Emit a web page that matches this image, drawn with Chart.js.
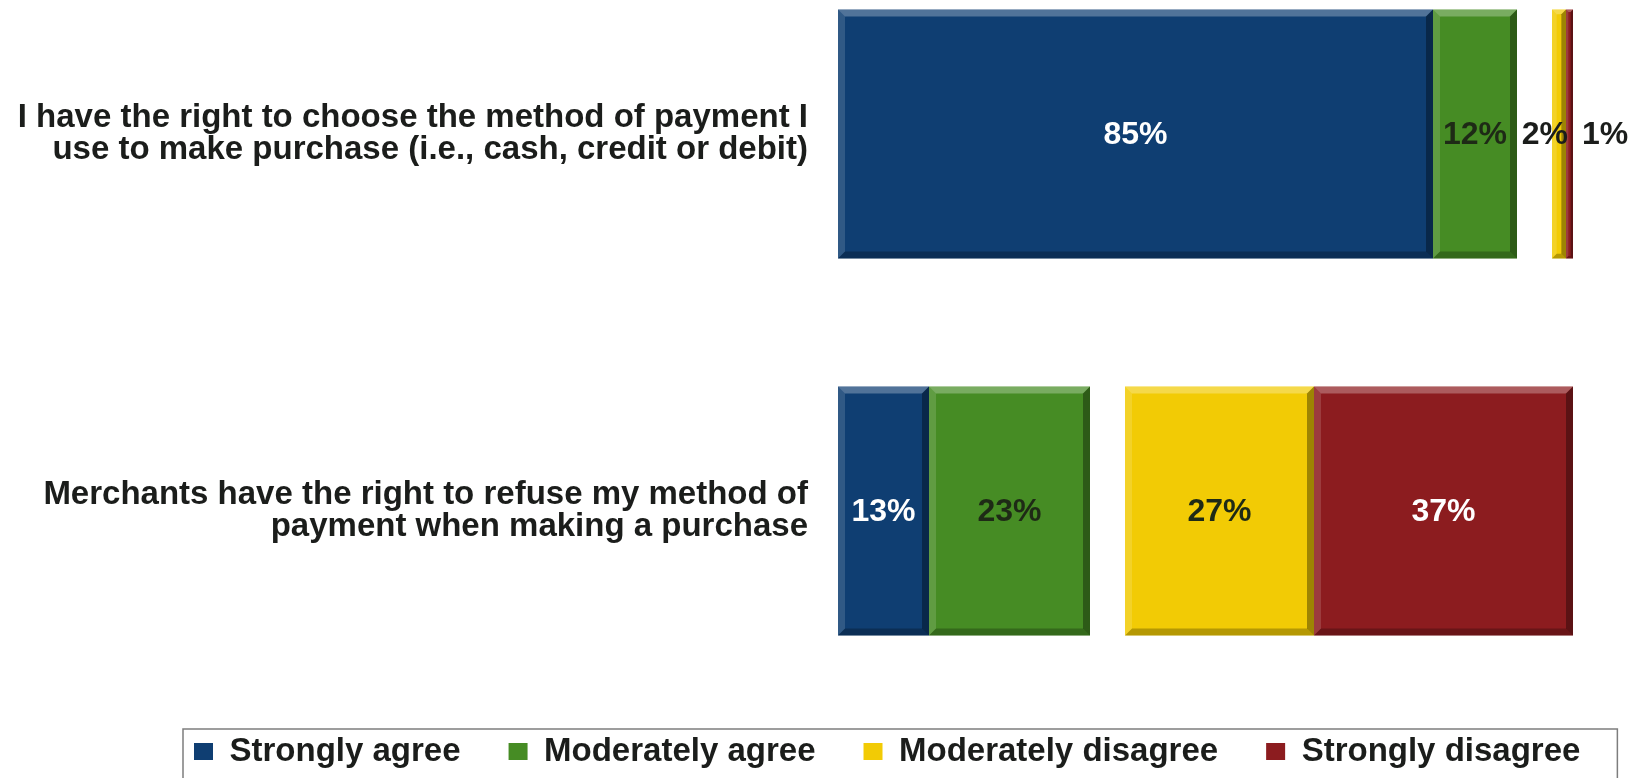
<!DOCTYPE html>
<html>
<head>
<meta charset="utf-8">
<script src="https://cdn.jsdelivr.net/npm/chart.js@4.4.0/dist/chart.umd.min.js"></script>
<style>
html,body{margin:0;padding:0;background:#fff;}
#wrap{width:1638px;height:778px;}
</style>
</head>
<body>
<div id="wrap"><canvas id="chart"></canvas></div>
<script>
// statements (y categories)
let questions=[
["I have the right to choose the method of payment I","use to make purchase (i.e., cash, credit or debit)"],
["Merchants have the right to refuse my method of","payment when making a purchase"]
];

// percentages per answer
let stronglyAgree=[85,13];
let moderatelyAgree=[12,23];
let gapValues=[5,5];
let moderatelyDisagree=[2,27];
let stronglyDisagree=[1,37];

let fontFamily="'Liberation Sans', Arial, sans-serif";
let textColor="#1b1d1b";

/* 3D bevel on bars */
const bevelPlugin={
id:"bevel",
afterDatasetsDraw(chart){
let ctx=chart.ctx;
chart.data.datasets.forEach(function(ds,di){
if(ds.isGap) return;
chart.getDatasetMeta(di).data.forEach(function(bar){
let p=bar.getProps(["x","y","base","height"],true);
let l=Math.min(p.base,p.x), r=Math.max(p.base,p.x);
let t=p.y-p.height/2, b=p.y+p.height/2;
let s=Math.min(7,(r-l)/3,(b-t)/3);
ctx.save();
ctx.fillStyle="rgba(255,255,255,0.28)";
ctx.beginPath();ctx.moveTo(l,t);ctx.lineTo(r,t);ctx.lineTo(r-s,t+s);ctx.lineTo(l+s,t+s);ctx.closePath();ctx.fill();
ctx.fillStyle="rgba(255,255,255,0.14)";
ctx.beginPath();ctx.moveTo(l,t);ctx.lineTo(l+s,t+s);ctx.lineTo(l+s,b-s);ctx.lineTo(l,b);ctx.closePath();ctx.fill();
ctx.fillStyle="rgba(0,0,0,0.25)";
ctx.beginPath();ctx.moveTo(l,b);ctx.lineTo(l+s,b-s);ctx.lineTo(r-s,b-s);ctx.lineTo(r,b);ctx.closePath();ctx.fill();
ctx.fillStyle="rgba(0,0,0,0.35)";
ctx.beginPath();ctx.moveTo(r,t);ctx.lineTo(r,b);ctx.lineTo(r-s,b-s);ctx.lineTo(r-s,t+s);ctx.closePath();ctx.fill();
ctx.restore();
});
});
}
};

/* value labels */
const labelPlugin={
id:"valueLabels",
afterDatasetsDraw(chart){
let ctx=chart.ctx;
let last=chart.data.datasets.length-1;
ctx.save();
ctx.font="bold 32px "+fontFamily;
ctx.textBaseline="middle";
chart.data.datasets.forEach(function(ds,di){
if(ds.isGap) return;
chart.getDatasetMeta(di).data.forEach(function(bar,i){
let v=ds.data[i];
let p=bar.getProps(["x","y","base"],true);
let x=(p.x+p.base)/2, align="center", color=ds.labelColor;
if(v<5){
color=textColor;
if(di===last){x=p.x+9;align="left";}
else{x=p.x+2;align="right";}
}
ctx.textAlign=align;
ctx.fillStyle=color;
ctx.fillText(v+"%",x,p.y+1);
});
});
ctx.restore();
}
};

/* move legend and frame it */
const legendPlugin={
id:"legendFrame",
afterLayout(chart){
let lg=chart.legend;
let w=lg.right-lg.left;
lg.left=194-lg.options.labels.padding;
lg.right=lg.left+w;
},
afterDraw(chart){
let boxes=chart.legend.legendHitBoxes;
if(!boxes||!boxes.length) return;
let l=Math.min.apply(null,boxes.map(function(h){return h.left;}));
let r=Math.max.apply(null,boxes.map(function(h){return h.left+h.width;}));
let t=boxes[0].top;
let ctx=chart.ctx;
ctx.save();
ctx.strokeStyle="#7d7d7d";
ctx.lineWidth=1.5;
ctx.strokeRect(l-11,t-6,r-l+48,100);
ctx.restore();
}
};

new Chart(document.getElementById("chart"),{
type:"bar",
data:{
labels:questions,
datasets:[
{label:"Strongly agree",data:stronglyAgree,backgroundColor:"#0f3e72",labelColor:"#ffffff"},
{label:"Moderately agree",data:moderatelyAgree,backgroundColor:"#468c24",labelColor:"#1e2a16"},
{label:"gap",data:gapValues,backgroundColor:"rgba(0,0,0,0)",isGap:true},
{label:"Moderately disagree",data:moderatelyDisagree,backgroundColor:"#f2cb05",labelColor:"#1e2a16"},
{label:"Strongly disagree",data:stronglyDisagree,backgroundColor:"#8c1c1f",labelColor:"#ffffff"}
]
},
options:{
indexAxis:"y",
responsive:true,
maintainAspectRatio:false,
animation:false,
layout:{autoPadding:false,padding:{left:0,right:65,top:134,bottom:0}},
datasets:{bar:{categoryPercentage:1,barPercentage:0.66,borderWidth:0,clip:false}},
scales:{
x:{
stacked:true,min:0,max:105,
position:"bottom",
grid:{display:false},
border:{display:false},
ticks:{display:false},
afterFit:function(scale){scale.height=176;}
},
y:{
stacked:true,
offset:false,
grid:{display:false,offset:false},
border:{display:false},
afterFit:function(scale){scale.width=838;},
ticks:{
padding:22,
color:textColor,
font:{family:fontFamily,size:33,weight:"bold",lineHeight:0.99}
}
}
},
plugins:{
tooltip:{enabled:false},
legend:{
position:"bottom",
align:"start",
labels:{
boxWidth:19,
boxHeight:17,
padding:48,
color:textColor,
font:{family:fontFamily,size:33,weight:"bold"},
filter:function(item,data){return !data.datasets[item.datasetIndex].isGap;}
}
}
}
},
plugins:[bevelPlugin,labelPlugin,legendPlugin]
});
</script>
</body>
</html>
